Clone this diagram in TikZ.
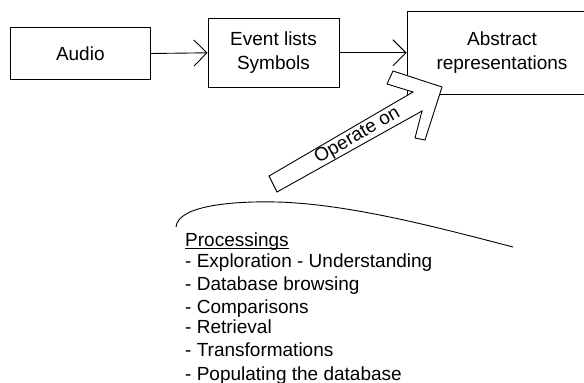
\documentclass[tikz,border=0pt]{standalone}
\usepackage{fontspec}
\setmainfont{Liberation Sans}
\usetikzlibrary{arrows.meta}
\begin{document}
\begin{tikzpicture}[x=1pt,y=-1pt,
  box/.style={draw=black,line width=0.9pt,fill=white,inner sep=0pt,align=center,
    font=\fontsize{19}{24.3}\selectfont},
  flow/.style={draw=black,line width=0.9pt,-{Straight Barb[length=13pt,width=26pt]}},
  listtxt/.style={inner sep=0pt,anchor=base west,font=\fontsize{19}{22.5}\selectfont},
  thinline/.style={draw=black,line width=0.9pt}]
\useasboundingbox (0,0) rectangle (584,383);
\clip (0,0) rectangle (584,383);
% boxes
\node[box,minimum width=139.3pt,minimum height=52pt] (audio) at (80.3,53.5) {Audio};
\node[box,minimum width=131pt,minimum height=68.3pt] (event) at (273.5,52.8) {Event lists\\Symbols};
\node[box,minimum width=190pt,minimum height=83pt] (abstract) at (502,52.5) {Abstract\\representations};
% connectors
\draw[flow] (audio.east) -- (event.west);
\draw[flow] (event.east) -- (event.east -| abstract.west);
% block arrow
\draw[thinline,fill=white] (269,176) -- (413,92) -- (387,84) -- (393,71) -- (442,87)
  -- (425,140) -- (415,138) -- (422,111) -- (277,192) -- cycle;
\node[inner sep=0pt,rotate=30,font=\fontsize{19}{22.5}\selectfont] (op) at (357.5,136) {Operate on};
% curve
\draw[thinline] (176,227) .. controls (178,205) and (235,201) .. (277,202)
  .. controls (350,204) and (440,228) .. (513,247);
% list
\node[listtxt] (proc) at (185,246.7) {Processings};
\draw[line width=0.9pt] ([yshift=-1.8pt]proc.base west) -- ([yshift=-1.8pt]proc.base east);
\node[listtxt] (l1) at (185,267.3) {- Exploration - Understanding};
\node[listtxt] (l2) at (185,290.7) {- Database browsing};
\node[listtxt] (l3) at (185,313.3) {- Comparisons};
\node[listtxt] (l4) at (185,333.3) {- Retrieval};
\node[listtxt] (l5) at (185,356.7) {- Transformations};
\node[listtxt] (l6) at (185,380) {- Populating the database};
\end{tikzpicture}
\end{document}
